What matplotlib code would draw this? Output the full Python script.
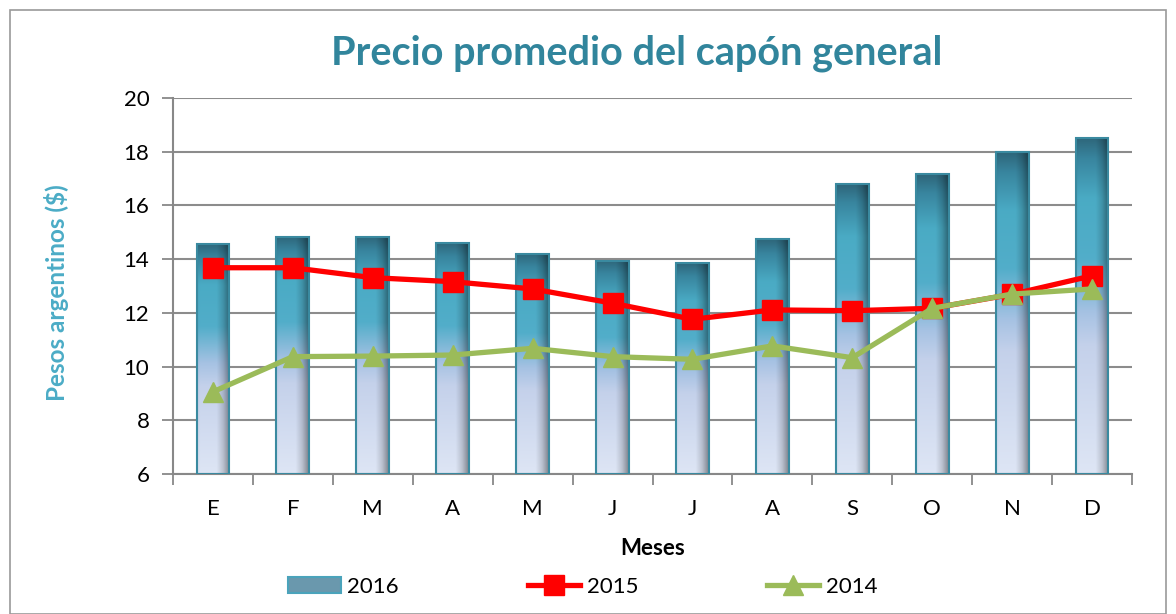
import numpy as np
import matplotlib
matplotlib.use("Agg")
import matplotlib.pyplot as plt
from matplotlib.patches import Rectangle, Patch
from matplotlib.lines import Line2D

months = ["E", "F", "M", "A", "M", "J", "J", "A", "S", "O", "N", "D"]
v2016 = [14.58, 14.84, 14.84, 14.61, 14.20, 13.94, 13.85, 14.74, 16.79, 17.17, 17.98, 18.52]
v2015 = [13.68, 13.68, 13.31, 13.16, 12.89, 12.36, 11.76, 12.11, 12.08, 12.17, 12.69, 13.38]
v2014 = [9.06, 10.37, 10.39, 10.43, 10.68, 10.37, 10.27, 10.77, 10.33, 12.17, 12.70, 12.89]

teal = "#31859c"
plt.rcParams['font.family'] = ['Lato', 'DejaVu Sans']

fig = plt.figure(figsize=(11.76, 6.14), dpi=100)
ax = fig.add_axes([173/1176, 1-474/614, (1132-173)/1176, (474-98)/614])

# outer frame
fig.patches.append(Rectangle((10/1176, 0.0), (1166-10)/1176, 1-10/614, transform=fig.transFigure,
                             fill=False, edgecolor="#9a9a9a", linewidth=1.2))

x = np.arange(len(months))
bars = ax.bar(x, np.array(v2016) - 6, bottom=6, width=0.41, facecolor="none",
              edgecolor="#3a8aa0", linewidth=1.5, zorder=3)

# gradient image for bars
H, W = 200, 60
t = np.linspace(0, 1, H)[:, None]  # 0 top -> 1 bottom
stops = [(0.0, (0.18, 0.40, 0.48)), (0.06, (0.22, 0.52, 0.62)), (0.18, (0.29, 0.67, 0.77)),
         (0.36, (0.32, 0.68, 0.79)), (0.52, (0.65, 0.76, 0.89)), (0.62, (0.77, 0.82, 0.92)),
         (1.0, (0.87, 0.90, 0.96))]
pos = [s[0] for s in stops]
vert = np.zeros((H, 3))
for c in range(3):
    vert[:, c] = np.interp(t[:, 0], pos, [s[1][c] for s in stops])
u = np.linspace(0, 1, W)
shade = np.interp(u, [0, 0.1, 0.6, 0.8, 1.0], [0.97, 1.0, 1.0, 0.85, 0.58])
img = vert[:, None, :] * shade[None, :, None]
img = np.clip(img, 0, 1)
for b in bars:
    x0, y0 = b.get_x(), b.get_y()
    w, h = b.get_width(), b.get_height()
    im = ax.imshow(img, extent=[x0, x0 + w, y0, y0 + h], aspect="auto", zorder=2,
                   interpolation="bilinear")
    im.set_clip_path(b)

ax.plot(x, v2015, color="#ff0000", linewidth=3.8, marker="s", markersize=14, zorder=4)
ax.plot(x, v2014, color="#9bbb59", linewidth=3.8, marker="^", markersize=15, zorder=5)

ax.set_xlim(-0.5, 11.5)
ax.set_ylim(6, 20)
ax.set_yticks(np.arange(6, 21, 2))
ax.set_xticks(x)
ax.set_xticklabels(months)
ax.set_xticks(np.arange(-0.5, 12, 1), minor=True)
ax.tick_params(axis="x", which="major", length=0, pad=18, labelsize=16)
ax.tick_params(axis="x", which="minor", length=8, width=1.3, color="#888888", direction="out")
ax.tick_params(axis="y", length=8, width=1.3, color="#888888", labelsize=16, pad=9)
ax.grid(axis="y", color="#8c8c8c", linewidth=1.5, zorder=0)
ax.set_axisbelow(True)
for s in ["top", "right"]:
    ax.spines[s].set_visible(False)
for s in ["left", "bottom"]:
    ax.spines[s].set_color("#888888")
    ax.spines[s].set_linewidth(1.5)

ax.set_xlabel("Meses", fontsize=16, fontweight="bold", labelpad=14)
ax.set_ylabel("Pesos argentinos ($)", fontsize=17.5, fontweight="bold", color="#4bacc6")
ax.yaxis.set_label_coords(69/1176, 1-293/614, transform=fig.transFigure)
fig.text(637/1176, 1-53/614, "Precio promedio del capón general", fontsize=28.5, fontweight="bold",
         color=teal, ha="center", va="center")

handles = [Patch(facecolor="#6a98ad", edgecolor="#4aa3bb", linewidth=1.5),
           Line2D([], [], color="#ff0000", linewidth=3.8, marker="s", markersize=14),
           Line2D([], [], color="#9bbb59", linewidth=3.8, marker="^", markersize=15)]
fig.legend(handles, ["2016", "2015", "2014"], loc="center", bbox_to_anchor=(583/1176, 1-587/614),
           ncol=3, frameon=False, fontsize=16, columnspacing=5.8, handlelength=2.35, handletextpad=0.3)

fig.savefig("out.png", dpi=100)
